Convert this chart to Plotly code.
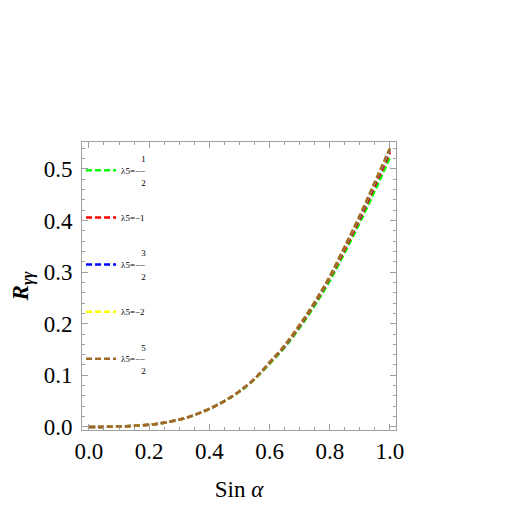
import plotly.graph_objects as go

# sin(alpha) grid and R_gammagamma
sin_alpha = [0.0, 0.05, 0.1, 0.15, 0.2, 0.25, 0.3, 0.35, 0.4, 0.45, 0.5,
             0.55, 0.6, 0.65, 0.7, 0.75, 0.8, 0.85, 0.9, 0.95, 1.0]

r_m05 = [0.0, 0.0, 0.001, 0.002, 0.004, 0.008, 0.014, 0.023, 0.035, 0.050, 0.068,
         0.092, 0.122, 0.154, 0.192, 0.235, 0.283, 0.338, 0.396, 0.458, 0.522]
r_m10 = [0.0, 0.0, 0.001, 0.002, 0.004, 0.008, 0.014, 0.023, 0.035, 0.050, 0.069,
         0.093, 0.124, 0.156, 0.195, 0.239, 0.288, 0.344, 0.403, 0.467, 0.532]
r_m15 = [0.0, 0.0, 0.001, 0.002, 0.004, 0.008, 0.014, 0.023, 0.035, 0.050, 0.069,
         0.093, 0.125, 0.157, 0.197, 0.241, 0.290, 0.348, 0.407, 0.472, 0.537]
r_m20 = [0.0, 0.0, 0.001, 0.002, 0.004, 0.008, 0.014, 0.023, 0.035, 0.050, 0.069,
         0.093, 0.125, 0.158, 0.198, 0.242, 0.291, 0.349, 0.409, 0.474, 0.539]
r_m25 = [0.0, 0.0, 0.001, 0.002, 0.004, 0.008, 0.014, 0.023, 0.035, 0.050, 0.069,
         0.093, 0.125, 0.158, 0.198, 0.242, 0.292, 0.350, 0.410, 0.475, 0.540]

pad = "&nbsp;" * 9
labels = [
    pad + "1<br>λ5=−&#8722;<br>" + pad + "2",
    " <br>λ5=−1<br> ",
    pad + "3<br>λ5=−&#8722;<br>" + pad + "2",
    " <br>λ5=−2<br> ",
    pad + "5<br>λ5=−&#8722;<br>" + pad + "2",
]
series = [r_m05, r_m10, r_m15, r_m20, r_m25]
colors = ["#00ff00", "#ff0000", "#0000ff", "#ffff00", "#a0672a"]

SERIF = "Liberation Serif"

fig = go.Figure()
for i, (lab, vals, col) in enumerate(zip(labels, series, colors)):
    fig.add_trace(go.Scatter(
        x=sin_alpha, y=vals, mode="lines", name=lab, legendgroup=str(i),
        line=dict(color=col, width=2.5, dash="6px,3px", shape="spline"),
    ))

axis_common = dict(
    showline=True, linecolor="#a0a0a0", linewidth=1, mirror="ticks",
    ticks="inside", ticklen=6, tickcolor="#a0a0a0",
    showgrid=False, zeroline=False,
    tickfont=dict(family=SERIF, size=23, color="black"),
)

fig.update_xaxes(
    range=[-0.023, 1.02], tick0=0, dtick=0.2, tickformat=".1f",
    minor=dict(ticks="inside", ticklen=3, dtick=0.05, tickcolor="#a0a0a0"),
    title=dict(text="Sin <i>α</i>", font=dict(family=SERIF, size=23, color="black"),
               standoff=18),
    **axis_common,
)
fig.update_yaxes(
    range=[-0.006, 0.552], tick0=0, dtick=0.1, tickformat=".1f",
    minor=dict(ticks="inside", ticklen=3, dtick=0.02, tickcolor="#a0a0a0"),
    ticklabelstandoff=4,
    title=dict(text="<b><i>R</i></b><sub><b><i>γγ</i></b></sub>",
               font=dict(family=SERIF, size=23, color="black"), standoff=8),
    **axis_common,
)

fig.update_layout(
    width=527, height=526,
    margin=dict(l=72, r=139, t=134, b=104),
    paper_bgcolor="white", plot_bgcolor="white",
    showlegend=True,
    legend=dict(
        x=-0.003, y=0.985, xanchor="left", yanchor="top",
        bgcolor="rgba(0,0,0,0)", borderwidth=0,
        font=dict(family=SERIF, size=9, color="black"),
        tracegroupgap=9, valign="middle",
    ),
)

fig.write_html("out.html")
